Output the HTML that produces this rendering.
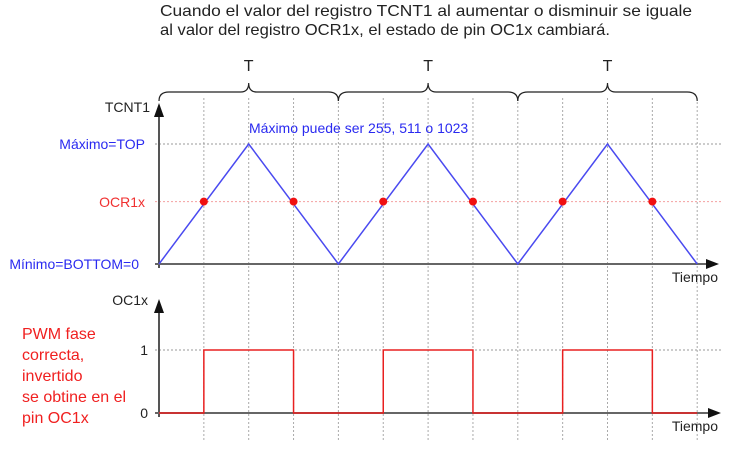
<!DOCTYPE html>
<html><head><meta charset="utf-8"><style>
html,body{margin:0;padding:0;background:#fff;}
svg{display:block;font-family:"Liberation Sans",Arial,sans-serif;}
</style></head><body>
<svg id="c" width="739" height="457" viewBox="0 0 739 457">
<text x="160" y="16" font-size="16" fill="#222" textLength="532" lengthAdjust="spacingAndGlyphs">Cuando el valor del registro TCNT1 al aumentar o disminuir se iguale</text>
<text x="160" y="35" font-size="16" fill="#222" textLength="450" lengthAdjust="spacingAndGlyphs">al valor del registro OCR1x, el estado de pin OC1x cambiará.</text>
<g id="grid"></g>
<g id="braces"></g>
<line x1="159" y1="268" x2="159" y2="112" stroke="#555" stroke-width="2"/>
<polygon points="159,103 154,117 164,117" fill="#111"/>
<line x1="155" y1="264" x2="708" y2="264" stroke="#666" stroke-width="2"/>
<polygon points="719,264 706,259 706,269" fill="#111"/>
<text x="150" y="112" font-size="14" fill="#222" text-anchor="end">TCNT1</text>
<text x="145" y="149" font-size="14" fill="#2a2af0" text-anchor="end">Máximo=TOP</text>
<text x="145" y="207" font-size="14" fill="#f03030" text-anchor="end">OCR1x</text>
<text x="139" y="269" font-size="14" fill="#2a2af0" text-anchor="end">Mínimo=BOTTOM=0</text>
<text x="249" y="133" font-size="14" fill="#2a2af0">Máximo puede ser 255, 511 o 1023</text>
<text x="718" y="282" font-size="14" fill="#222" text-anchor="end">Tiempo</text>
<line x1="159" y1="417" x2="159" y2="308" stroke="#555" stroke-width="2"/>
<polygon points="159,299 154,313 164,313" fill="#111"/>
<line x1="155" y1="413" x2="710" y2="413" stroke="#666" stroke-width="2"/>
<polygon points="721,413 708,408 708,418" fill="#111"/>
<text x="148" y="305" font-size="14" fill="#222" text-anchor="end">OC1x</text>
<text x="148" y="355" font-size="14" fill="#222" text-anchor="end">1</text>
<text x="148" y="418" font-size="14" fill="#222" text-anchor="end">0</text>
<text x="718" y="431" font-size="14" fill="#222" text-anchor="end">Tiempo</text>
<g font-size="16" fill="#f02020">
<text x="22" y="339">PWM fase</text><text x="22" y="360">correcta,</text><text x="22" y="381">invertido</text><text x="22" y="402">se obtine en el</text><text x="22" y="423">pin OC1x</text>
</g>
<g id="marks"></g>
</svg>
<script>
const tcntTimes = [0, 1, 2, 3, 4, 5, 6];
const tcntValues = [0, 1, 0, 1, 0, 1, 0];
const ocrLevel = 0.52;
const crossTimes = [0.5, 1.5, 2.5, 3.5, 4.5, 5.5];
const pulseStarts = [0.5, 2.5, 4.5];
const pulseEnds = [1.5, 3.5, 5.5];
const periodLabels = ['T', 'T', 'T'];
const gridTimes = [0.5,1,1.5,2,2.5,3,3.5,4,4.5,5,5.5,6];

const NS = 'http://www.w3.org/2000/svg';
const xS = t => 159 + t * 89.7;
const yTop = v => 264 - v * 120;
const yBot = v => 413 - v * 63;
function mk(tag, attrs, parent){const e=document.createElementNS(NS,tag);for(const k in attrs)e.setAttribute(k,attrs[k]);parent.appendChild(e);return e;}
const grid=document.getElementById('grid'), marks=document.getElementById('marks'), braces=document.getElementById('braces');

gridTimes.forEach(t=>{
  const l=mk('line',{x1:xS(t),y1:98,x2:xS(t),y2:442,stroke:'#aaa','stroke-width':1,'stroke-dasharray':'2,2'},grid);
  
  
});
[[yTop(1),'#999','top-level-line'],[yTop(ocrLevel),'#f4a0a0','ocr-level-line'],[yBot(1),'#999','high-level-line']].forEach(([y,c,n])=>{
  const l=mk('line',{x1:155,y1:y,x2:722,y2:y,stroke:c,'stroke-width':1,'stroke-dasharray':'2,2'},grid);
  
  
});
for(let i=0;i<periodLabels.length;i++){
  const a=xS(2*i), b=xS(2*i+2), m=(a+b)/2, y=92;
  const p=mk('path',{d:`M${a},${y+9} Q${a},${y} ${a+10},${y} L${m-8},${y} Q${m},${y} ${m},${y-9} Q${m},${y} ${m+8},${y} L${b-10},${y} Q${b},${y} ${b},${y+9}`,fill:'none',stroke:'#222','stroke-width':1.2},braces);
  
  
  const t=mk('text',{x:m,y:71,'text-anchor':'middle','font-size':16,fill:'#222'},braces);
  t.textContent=periodLabels[i];
  
  
}
const tri=mk('polyline',{points:tcntTimes.map((t,i)=>xS(t)+','+yTop(tcntValues[i])).join(' '),fill:'none',stroke:'#4a4af0','stroke-width':1.5},marks);


crossTimes.forEach(t=>{
  const c=mk('circle',{cx:xS(t),cy:yTop(ocrLevel),r:4,fill:'#f01010'},marks);
  
  
});
let pts=[[xS(0),yBot(0)]];
pulseStarts.forEach((s,i)=>{pts.push([xS(s),yBot(0)],[xS(s),yBot(1)],[xS(pulseEnds[i]),yBot(1)],[xS(pulseEnds[i]),yBot(0)]);});
pts.push([xS(6),yBot(0)]);
const pw=mk('polyline',{points:pts.map(p=>p.join(',')).join(' '),fill:'none',stroke:'#e82020','stroke-width':1.5},marks);


</script>
</body></html>
